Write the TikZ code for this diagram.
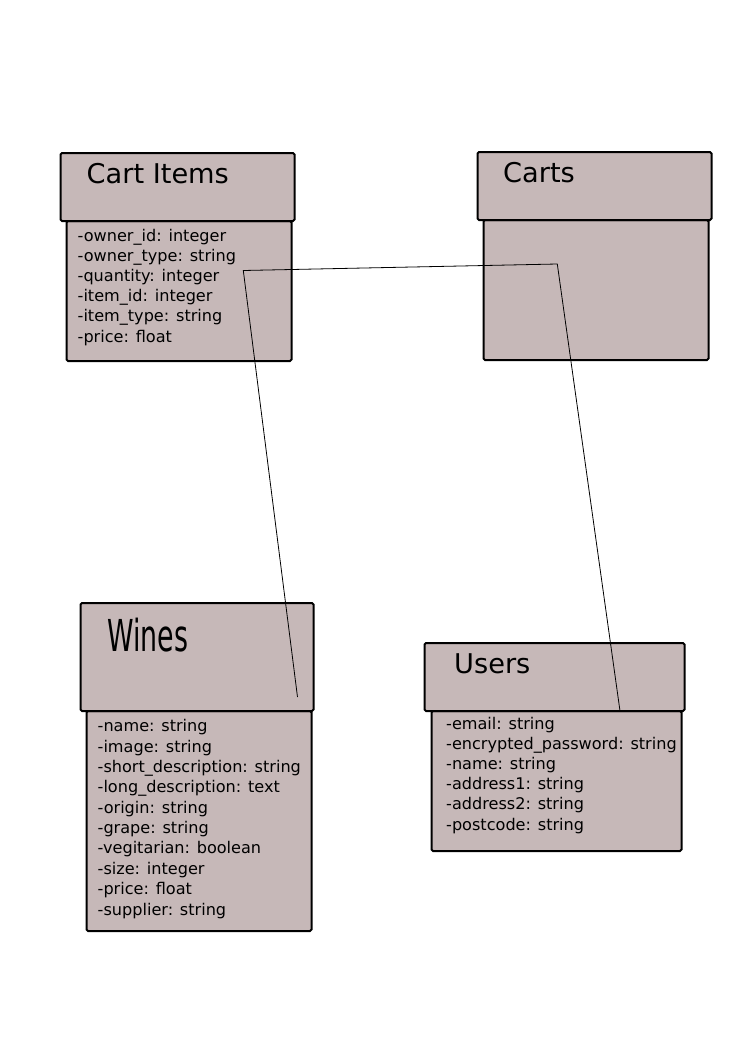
\documentclass[tikz,border=0pt]{standalone}
\usepackage{fontspec}
\usepackage{graphicx}
\setmainfont{DejaVu Sans}
\definecolor{boxfill}{RGB}{198,184,184}
\tikzset{
  box/.style={draw=black, fill=boxfill, line width=2pt, rounded corners=1.5pt, inner sep=0pt, anchor=north west},
  ttl/.style={anchor=base west, inner sep=0pt, font=\fontsize{27.2}{30}\selectfont},
  attr/.style={anchor=base west, inner sep=0pt, font=\fontsize{16.1}{20}\selectfont},
  link/.style={draw=black, line width=0.8pt}
}
\begin{document}
\begin{tikzpicture}[x=1pt,y=-1pt]
\useasboundingbox (0,0) rectangle (744,1052);
% Cart Items
\node[box, minimum width=225pt, minimum height=140pt] (cib) at (65.5,220) {};
\node[box, minimum width=234pt, minimum height=68pt] (cih) at (59.5,152) {};
\node[ttl] (cit) at (86.5,183.3) {Cart Items};
\node[attr] (ci1) at (77.5,241.0) {-owner\_id: integer};
\node[attr] (ci2) at (77.5,261.2) {-owner\_type: string};
\node[attr] (ci3) at (77.5,281.4) {-quantity: integer};
\node[attr] (ci4) at (77.5,301.6) {-item\_id: integer};
\node[attr] (ci5) at (77.5,321.8) {-item\_type: string};
\node[attr] (ci6) at (77.5,342.0) {-price: float};
% Carts
\node[box, minimum width=225pt, minimum height=140pt] (cab) at (482.5,219) {};
\node[box, minimum width=234pt, minimum height=68pt] (cah) at (476.5,151) {};
\node[ttl] (cat) at (503,182.5) {Carts};
% Wines
\node[box, minimum width=225pt, minimum height=220pt] (wib) at (85.5,710) {};
\node[box, minimum width=233pt, minimum height=108pt] (wih) at (79.5,602) {};
\node[anchor=base west, inner sep=0pt, font=\fontsize{44}{48}\selectfont] (wit) at (107,651.7) {\scalebox{0.61}[1]{Wines}};
\node[attr] (wi1) at (97.5,731.7) {-name: string};
\node[attr] (wi2) at (97.5,752.1) {-image: string};
\node[attr] (wi3) at (97.5,772.4) {-short\_description: string};
\node[attr] (wi4) at (97.5,792.8) {-long\_description: text};
\node[attr] (wi5) at (97.5,813.2) {-origin: string};
\node[attr] (wi6) at (97.5,833.5) {-grape: string};
\node[attr] (wi7) at (97.5,853.9) {-vegitarian: boolean};
\node[attr] (wi8) at (97.5,874.3) {-size: integer};
\node[attr] (wi9) at (97.5,894.6) {-price: float};
\node[attr] (wi10) at (97.5,915.0) {-supplier: string};
% Users
\node[box, minimum width=250pt, minimum height=140pt] (usb) at (430.5,710) {};
\node[box, minimum width=260pt, minimum height=68pt] (ush) at (423.5,642) {};
\node[ttl] (ust) at (454,673.3) {Users};
\node[attr] (us1) at (446,729.3) {-email: string};
\node[attr] (us2) at (446,749.4) {-encrypted\_password: string};
\node[attr] (us3) at (446,769.5) {-name: string};
\node[attr] (us4) at (446,789.7) {-address1: string};
\node[attr] (us5) at (446,809.8) {-address2: string};
\node[attr] (us6) at (446,830.0) {-postcode: string};
% connector
\coordinate (w1) at (297.5,697);
\coordinate (k1) at (243.3,270.5);
\coordinate (k2) at (557.3,264);
\coordinate (u1) at (620,711);
\draw[link] (w1) -- (k1) -- (k2) -- (u1);
\end{tikzpicture}
\end{document}
